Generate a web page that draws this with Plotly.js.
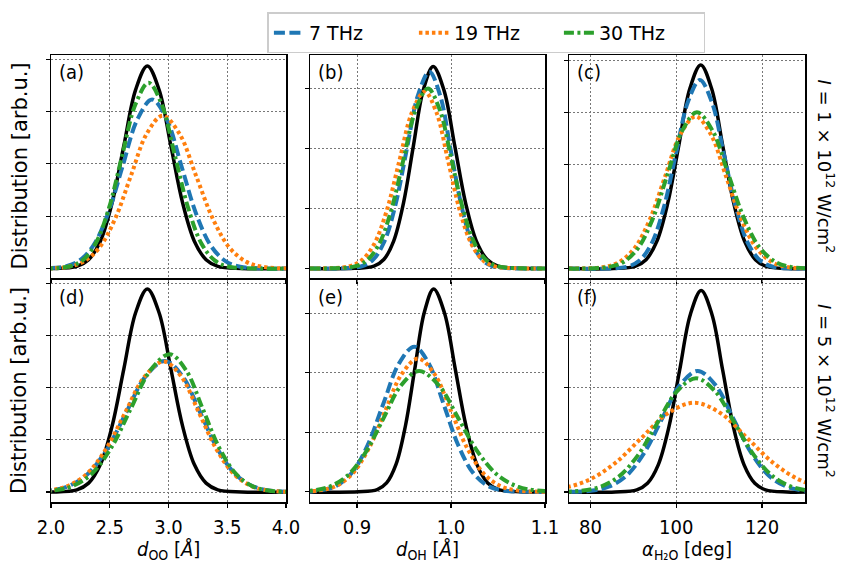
<!DOCTYPE html>
<html><head><meta charset="utf-8">
<script src="https://cdn.plot.ly/plotly-3.0.1.min.js"></script>
<style>html,body{margin:0;padding:0;background:#fff}#chart{width:843px;height:567px}</style>
</head><body><div id="chart"></div>
<script>
// ---------- data ----------
const seriesNames = ['7 THz', '19 THz', '30 THz'];
const panelLabels = ['(a)', '(b)', '(c)', '(d)', '(e)', '(f)'];
const xTicksOO = [2.0, 2.5, 3.0, 3.5, 4.0];
const xTicksOH = [0.9, 1.0, 1.1];
const xTicksAngle = [80, 100, 120];

// panel (a): d_OO, I = 1e12
const a_ref_x = [2.0, 2.02, 2.22, 2.32, 2.42, 2.52, 2.62, 2.72, 2.82, 2.92, 3.02, 3.12, 3.22, 3.32, 3.42, 3.62, 4.0];
const a_ref_y = [0, 0.001, 0.043, 0.170, 0.524, 1.257, 2.347, 3.415, 3.87, 3.415, 2.347, 1.257, 0.524, 0.170, 0.043, 0.001, 0];
const a_7_x = [1.86, 2.11, 2.235, 2.36, 2.485, 2.61, 2.735, 2.86, 2.985, 3.11, 3.235, 3.36, 3.485, 3.61, 3.86, 4.0];
const a_7_y = [0.001, 0.036, 0.142, 0.437, 1.049, 1.959, 2.850, 3.23, 2.850, 1.959, 1.049, 0.437, 0.142, 0.036, 0.001, 0];
const a_19_x = [1.87, 2.14, 2.275, 2.41, 2.545, 2.68, 2.815, 2.95, 3.093, 3.235, 3.378, 3.52, 3.663, 3.805, 4.09];
const a_19_y = [0.001, 0.032, 0.128, 0.395, 0.948, 1.771, 2.577, 2.92, 2.577, 1.771, 0.948, 0.395, 0.128, 0.032, 0.001];
const a_30_x = [1.93, 2.155, 2.268, 2.38, 2.493, 2.605, 2.718, 2.83, 2.943, 3.055, 3.168, 3.28, 3.393, 3.505, 3.73, 4.0];
const a_30_y = [0.001, 0.039, 0.156, 0.480, 1.153, 2.153, 3.133, 3.55, 3.133, 2.153, 1.153, 0.480, 0.156, 0.039, 0.001, 0];

// panel (b): d_OH, I = 1e12
const b_ref_x = [0.85, 0.897, 0.918, 0.9285, 0.939, 0.9495, 0.960, 0.9705, 0.981, 0.9925, 1.004, 1.0155, 1.027, 1.0385, 1.05, 1.073, 1.1];
const b_ref_y = [0, 0.001, 0.037, 0.148, 0.456, 1.094, 2.044, 2.974, 3.37, 2.974, 2.044, 1.094, 0.456, 0.148, 0.037, 0.001, 0];
const b_7_x = [0.85, 0.881, 0.905, 0.917, 0.929, 0.941, 0.953, 0.965, 0.977, 0.9883, 0.9995, 1.0108, 1.022, 1.0333, 1.0445, 1.067, 1.1];
const b_7_y = [0, 0.001, 0.036, 0.144, 0.444, 1.065, 1.989, 2.895, 3.28, 2.895, 1.989, 1.065, 0.444, 0.144, 0.036, 0.001, 0];
const b_19_x = [0.85, 0.864, 0.891, 0.9045, 0.918, 0.9315, 0.945, 0.9585, 0.972, 0.9845, 0.997, 1.0095, 1.022, 1.0345, 1.047, 1.072, 1.1];
const b_19_y = [0, 0.001, 0.033, 0.130, 0.399, 0.958, 1.789, 2.603, 2.95, 2.603, 1.789, 0.958, 0.399, 0.130, 0.033, 0.001, 0];
const b_30_x = [0.85, 0.8715, 0.8975, 0.9105, 0.9235, 0.9365, 0.9495, 0.9625, 0.9755, 0.988, 1.0005, 1.013, 1.0255, 1.038, 1.0505, 1.0755, 1.1];
const b_30_y = [0, 0.001, 0.033, 0.132, 0.406, 0.974, 1.820, 2.648, 3.0, 2.648, 1.820, 0.974, 0.406, 0.132, 0.033, 0.001, 0];

// panel (c): alpha_H2O, I = 1e12
const c_ref_x = [75, 85.3, 90.4, 92.95, 95.5, 98.05, 100.6, 103.15, 105.7, 108.25, 110.8, 113.35, 115.9, 118.45, 121.0, 126.1, 130];
const c_ref_y = [0, 0.001, 0.043, 0.172, 0.529, 1.270, 2.371, 3.451, 3.91, 3.451, 2.371, 1.270, 0.529, 0.172, 0.043, 0.001, 0];
const c_7_x = [75, 83.1, 88.7, 91.5, 94.3, 97.1, 99.9, 102.7, 105.5, 108.3, 111.1, 113.9, 116.7, 119.5, 122.3, 127.9, 130];
const c_7_y = [0, 0.001, 0.040, 0.159, 0.490, 1.175, 2.196, 3.195, 3.62, 3.195, 2.196, 1.175, 0.490, 0.159, 0.040, 0.001, 0];
const c_19_x = [75, 76.1, 83.2, 86.75, 90.3, 93.85, 97.4, 100.95, 104.5, 108.05, 111.6, 115.15, 118.7, 122.25, 125.8, 132.9];
const c_19_y = [0, 0.001, 0.032, 0.128, 0.395, 0.948, 1.771, 2.577, 2.92, 2.577, 1.771, 0.948, 0.395, 0.128, 0.032, 0.001];
const c_30_x = [75, 77.6, 84.4, 87.8, 91.2, 94.6, 98.0, 101.4, 104.8, 108.45, 112.1, 115.75, 119.4, 123.05, 126.7, 134];
const c_30_y = [0, 0.001, 0.033, 0.132, 0.406, 0.974, 1.820, 2.648, 3.0, 2.648, 1.820, 0.974, 0.406, 0.132, 0.033, 0.001];

// panel (d): d_OO, I = 5e12
const d_ref_x = [2.0, 2.02, 2.22, 2.32, 2.42, 2.52, 2.62, 2.72, 2.82, 2.92, 3.02, 3.12, 3.22, 3.32, 3.42, 3.62, 4.0];
const d_ref_y = [0, 0.001, 0.043, 0.171, 0.526, 1.263, 2.359, 3.433, 3.89, 3.433, 2.359, 1.263, 0.526, 0.171, 0.043, 0.001, 0];
const d_7_x = [1.65, 1.98, 2.145, 2.31, 2.475, 2.64, 2.805, 2.97, 3.12, 3.27, 3.42, 3.57, 3.72, 3.87, 4.17];
const d_7_y = [0.001, 0.028, 0.110, 0.340, 0.815, 1.522, 2.215, 2.51, 2.215, 1.522, 0.815, 0.340, 0.110, 0.028, 0.001];
const d_19_x = [1.64, 1.97, 2.135, 2.30, 2.465, 2.63, 2.795, 2.96, 3.11, 3.26, 3.41, 3.56, 3.71, 3.86, 4.16];
const d_19_y = [0.001, 0.028, 0.110, 0.338, 0.812, 1.516, 2.206, 2.50, 2.206, 1.516, 0.812, 0.338, 0.110, 0.028, 0.001];
const d_30_x = [1.69, 2.02, 2.185, 2.35, 2.515, 2.68, 2.845, 3.01, 3.15, 3.29, 3.43, 3.57, 3.71, 3.85, 4.13];
const d_30_y = [0.001, 0.029, 0.116, 0.357, 0.857, 1.601, 2.330, 2.64, 2.330, 1.601, 0.857, 0.357, 0.116, 0.029, 0.001];

// panel (e): d_OH, I = 5e12
const e_ref_x = [0.85, 0.9015, 0.9215, 0.9315, 0.9415, 0.9515, 0.9615, 0.9715, 0.9815, 0.993, 1.0045, 1.016, 1.0275, 1.039, 1.0505, 1.0735, 1.1];
const e_ref_y = [0, 0.001, 0.038, 0.150, 0.461, 1.107, 2.068, 3.009, 3.41, 3.009, 2.068, 1.107, 0.461, 0.150, 0.038, 0.001, 0];
const e_7_x = [0.829, 0.862, 0.8785, 0.895, 0.9115, 0.928, 0.9445, 0.961, 0.9765, 0.992, 1.0075, 1.023, 1.0385, 1.054, 1.085, 1.1];
const e_7_y = [0.001, 0.027, 0.107, 0.330, 0.792, 1.480, 2.153, 2.44, 2.153, 1.480, 0.792, 0.330, 0.107, 0.027, 0.001, 0];
const e_19_x = [0.825, 0.86, 0.8775, 0.895, 0.9125, 0.93, 0.9475, 0.965, 0.9825, 1.0, 1.0175, 1.035, 1.0525, 1.07, 1.105];
const e_19_y = [0.001, 0.025, 0.098, 0.303, 0.727, 1.359, 1.977, 2.24, 1.977, 1.359, 0.727, 0.303, 0.098, 0.025, 0.001];
const e_30_x = [0.814, 0.852, 0.871, 0.89, 0.909, 0.928, 0.947, 0.966, 0.987, 1.008, 1.029, 1.05, 1.071, 1.092, 1.134];
const e_30_y = [0.001, 0.023, 0.089, 0.275, 0.659, 1.231, 1.792, 2.03, 1.792, 1.231, 0.659, 0.275, 0.089, 0.023, 0.001];

// panel (f): alpha_H2O, I = 5e12
const f_ref_x = [75, 85.8, 90.8, 93.3, 95.8, 98.3, 100.8, 103.3, 105.8, 108.3, 110.8, 113.3, 115.8, 118.3, 120.8, 125.8, 130];
const f_ref_y = [0, 0.001, 0.043, 0.169, 0.522, 1.253, 2.341, 3.406, 3.86, 3.406, 2.341, 1.253, 0.522, 0.169, 0.043, 0.001, 0];
const f_7_x = [71.8, 80.1, 84.25, 88.4, 92.55, 96.7, 100.85, 105, 109.15, 113.3, 117.45, 121.6, 125.75, 129.9, 138.2];
const f_7_y = [0.001, 0.026, 0.102, 0.314, 0.753, 1.407, 2.047, 2.32, 2.047, 1.407, 0.753, 0.314, 0.102, 0.026, 0.001];
const f_19_x = [55.0, 67.3, 73.45, 79.6, 85.75, 91.9, 98.05, 104.2, 110.35, 116.5, 122.65, 128.8, 134.95, 141.1, 153.4];
const f_19_y = [0.001, 0.019, 0.075, 0.231, 0.555, 1.037, 1.509, 1.71, 1.509, 1.037, 0.555, 0.231, 0.075, 0.019, 0.001];
const f_30_x = [68.6, 77.6, 82.1, 86.6, 91.1, 95.6, 100.1, 104.6, 109.1, 113.6, 118.1, 122.6, 127.1, 131.6, 140.6];
const f_30_y = [0.001, 0.024, 0.096, 0.295, 0.708, 1.322, 1.924, 2.18, 1.924, 1.322, 0.708, 0.295, 0.096, 0.024, 0.001];

// ---------- build ----------
const FONT = 'DejaVu Sans Condensed, DejaVu Sans, sans-serif';
const FONT_REG = 'DejaVu Sans, sans-serif';
const styles = {
  ref: {color: '#000000', width: 3.5, dash: 'solid'},
  s7:  {color: '#1f77b4', width: 4, dash: '11px,4.5px'},
  s19: {color: '#ff7f0e', width: 4, dash: '3.5px,3px'},
  s30: {color: '#2ca02c', width: 4, dash: '10px,3.5px,3px,3.5px'}
};
function tr(x, y, ax, st, name, showleg) {
  return {type: 'scatter', mode: 'lines', x: x, y: y,
    xaxis: 'x' + ax, yaxis: 'y' + ax, name: name, showlegend: showleg,
    line: Object.assign({shape: 'spline', smoothing: 1}, styles[st]), hoverinfo: 'skip'};
}
const panels = [
  [a_ref_x, a_ref_y, a_7_x, a_7_y, a_19_x, a_19_y, a_30_x, a_30_y],
  [b_ref_x, b_ref_y, b_7_x, b_7_y, b_19_x, b_19_y, b_30_x, b_30_y],
  [c_ref_x, c_ref_y, c_7_x, c_7_y, c_19_x, c_19_y, c_30_x, c_30_y],
  [d_ref_x, d_ref_y, d_7_x, d_7_y, d_19_x, d_19_y, d_30_x, d_30_y],
  [e_ref_x, e_ref_y, e_7_x, e_7_y, e_19_x, e_19_y, e_30_x, e_30_y],
  [f_ref_x, f_ref_y, f_7_x, f_7_y, f_19_x, f_19_y, f_30_x, f_30_y]
];
const data = [];
panels.forEach((p, i) => {
  const ax = i === 0 ? '' : String(i + 1);
  const leg = i === 0;
  data.push(tr(p[0], p[1], ax, 'ref', 'ref', false));
  data.push(tr(p[2], p[3], ax, 's7', seriesNames[0], leg));
  data.push(tr(p[4], p[5], ax, 's19', seriesNames[1], leg));
  data.push(tr(p[6], p[7], ax, 's30', seriesNames[2], leg));
});

const W = 843, H = 567;
const colPx = [[51, 286], [310, 545], [569, 805]];
const rowPx = [[55, 278], [280, 502]];
const xRanges = [[2.0, 4.0], [0.85, 1.1], [75, 130]];
const xTicks = [xTicksOO, xTicksOH, xTicksAngle];
const yRanges = [[-0.18, 4.08], [-0.16, 3.56], [-0.18, 4.1], [-0.19, 4.06], [-0.17, 3.56], [-0.19, 4.06]];
const yTicks = [[0,1,2,3,4],[0,1,2,3],[0,1,2,3,4],[0,1,2,3,4],[0,1,2,3],[0,1,2,3,4]];

const layout = {
  width: W, height: H, margin: {l: 0, r: 0, t: 0, b: 0},
  paper_bgcolor: '#ffffff', plot_bgcolor: '#ffffff',
  font: {family: FONT, color: '#000000', size: 20},
  showlegend: true,
  legend: {orientation: 'h', x: 0.577, xanchor: 'center', y: 0.978, yanchor: 'top',
    bordercolor: '#cccccc', borderwidth: 1.5, bgcolor: '#ffffff',
    font: {family: FONT_REG, size: 19, color: '#000000'},
    entrywidth: 100, entrywidthmode: 'pixels', traceorder: 'normal'},
  annotations: []
};
for (let i = 0; i < 6; i++) {
  const r = Math.floor(i / 3), c = i % 3;
  const ax = i === 0 ? '' : String(i + 1);
  layout['xaxis' + ax] = {
    domain: [colPx[c][0] / W, colPx[c][1] / W], range: xRanges[c], anchor: 'y' + ax,
    tickvals: xTicks[c], tickformat: c === 2 ? 'd' : '.1f', showticklabels: r === 1,
    ticks: 'outside', ticklen: 4, tickwidth: 1.2, tickcolor: '#000', ticklabelstandoff: 2,
    tickfont: {family: FONT, size: 20},
    showline: true, mirror: true, linecolor: '#000', linewidth: 1.5,
    showgrid: true, gridcolor: '#777777', gridwidth: 1, griddash: '1.5px,2.5px', zeroline: false
  };
  layout['yaxis' + ax] = {
    domain: [1 - rowPx[r][1] / H, 1 - rowPx[r][0] / H], range: yRanges[i], anchor: 'x' + ax,
    tickvals: yTicks[i], showticklabels: false,
    ticks: 'outside', ticklen: 4, tickwidth: 1.2, tickcolor: '#000',
    showline: true, mirror: true, linecolor: '#000', linewidth: 1.5,
    showgrid: true, gridcolor: '#777777', gridwidth: 1, griddash: '1.5px,2.5px', zeroline: false
  };
  layout.annotations.push({text: panelLabels[i], xref: 'paper', yref: 'paper',
    x: (colPx[c][0] + 6) / W, y: 1 - (rowPx[r][0] + 17) / H, xanchor: 'left', yanchor: 'middle',
    showarrow: false, font: {family: FONT, size: 20}});
}
// y titles
[0, 1].forEach(r => {
  layout.annotations.push({text: 'Distribution [arb.u.]', xref: 'paper', yref: 'paper',
    x: 19 / W, y: 1 - (rowPx[r][0] + rowPx[r][1]) / 2 / H, textangle: -90,
    xanchor: 'center', yanchor: 'middle', showarrow: false,
    font: {family: FONT_REG, size: 21}});
});
layout.annotations.push({text: '<i>I</i> = 1 × 10<sup>12</sup> W/cm<sup>2</sup>', xref: 'paper', yref: 'paper',
  x: 826 / W, y: 1 - (rowPx[0][0] + rowPx[0][1]) / 2 / H, textangle: 90,
  xanchor: 'center', yanchor: 'middle', showarrow: false, font: {family: FONT_REG, size: 18}});
layout.annotations.push({text: '<i>I</i> = 5 × 10<sup>12</sup> W/cm<sup>2</sup>', xref: 'paper', yref: 'paper',
  x: 826 / W, y: 1 - (rowPx[1][0] + rowPx[1][1]) / 2 / H, textangle: 90,
  xanchor: 'center', yanchor: 'middle', showarrow: false, font: {family: FONT_REG, size: 18}});
// x titles
const xTitles = ['<i>d</i><sub>OO</sub> [<i>Å</i>]', '<i>d</i><sub>OH</sub> [<i>Å</i>]', '<i>α</i><sub>H₂O</sub> [deg]'];
xTitles.forEach((t, c) => {
  layout.annotations.push({text: t, xref: 'paper', yref: 'paper',
    x: (colPx[c][0] + colPx[c][1]) / 2 / W, y: 2 / H, xanchor: 'center', yanchor: 'bottom',
    showarrow: false, font: {family: FONT, size: 20}});
});

Plotly.newPlot('chart', data, layout, {displayModeBar: false, staticPlot: true});
</script>
</body></html>
